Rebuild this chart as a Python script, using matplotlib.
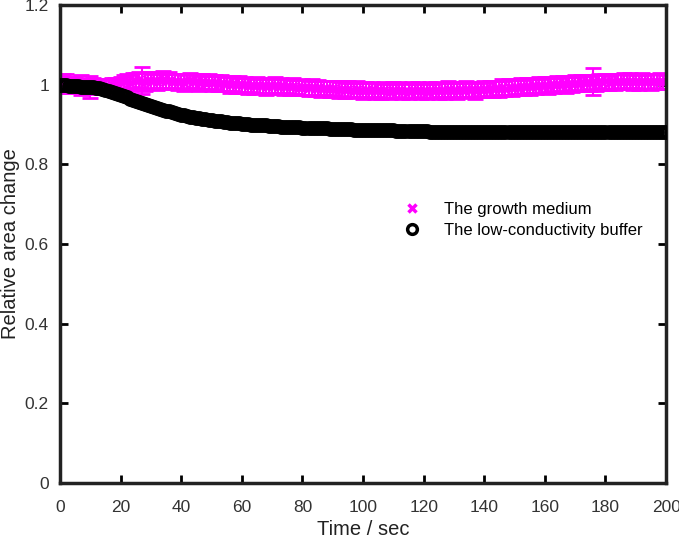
import numpy as np
import matplotlib
matplotlib.use('Agg')
import matplotlib.pyplot as plt
from matplotlib.lines import Line2D

plt.rcParams['font.family'] = ['Liberation Sans', 'DejaVu Sans']

# time axis, 1 s sampling
time = list(range(0, 201))

# relative area, growth medium (magenta x)
growth = [
    1.000, 1.006, 1.003, 0.998, 1.004, 1.001, 0.997, 0.999, 0.996, 0.998,
    0.995, 0.997, 0.994, 0.996, 0.998, 0.995, 0.997, 0.999, 1.001, 0.998,
    1.003, 1.006, 1.009, 1.004, 1.011, 1.008, 1.013, 1.010, 1.007, 1.012,
    1.009, 1.011, 1.006, 1.010, 1.013, 1.008, 1.011, 1.007, 1.010, 1.006,
    1.009, 1.005, 1.008, 1.011, 1.006, 1.009, 1.004, 1.008, 1.005, 1.007,
    1.003, 1.006, 1.002, 1.005, 1.001, 1.004, 1.000, 1.003, 0.999, 1.002,
    0.998, 1.001, 0.997, 1.000, 0.996, 1.000, 0.997, 0.999, 0.995, 0.998,
    0.996, 0.999, 0.995, 0.998, 0.994, 0.997, 0.993, 0.996, 0.994, 0.992,
    0.995, 0.993, 0.991, 0.994, 0.990, 0.993, 0.989, 0.992, 0.990, 0.988,
    0.991, 0.989, 0.987, 0.990, 0.986, 0.989, 0.987, 0.985, 0.988, 0.986,
    0.984, 0.987, 0.985, 0.988, 0.984, 0.986, 0.983, 0.987, 0.985, 0.982,
    0.986, 0.984, 0.987, 0.983, 0.985, 0.982, 0.986, 0.984, 0.987, 0.983,
    0.985, 0.982, 0.986, 0.984, 0.987, 0.983, 0.986, 0.984, 0.988, 0.985,
    0.987, 0.984, 0.988, 0.985, 0.989, 0.986, 0.988, 0.985, 0.989, 0.987,
    0.990, 0.987, 0.991, 0.988, 0.992, 0.989, 0.993, 0.990, 0.994, 0.991,
    0.995, 0.992, 0.996, 0.993, 0.997, 0.994, 0.998, 0.995, 0.999, 0.996,
    1.000, 0.997, 1.001, 0.998, 1.002, 0.999, 1.003, 1.000, 1.004, 1.001,
    1.005, 1.002, 1.006, 1.003, 1.007, 1.004, 1.008, 1.005, 1.009, 1.006,
    1.008, 1.005, 1.009, 1.006, 1.010, 1.007, 1.009, 1.006, 1.010, 1.007,
    1.009, 1.006, 1.010, 1.007, 1.009, 1.006, 1.010, 1.007, 1.009, 1.006,
    1.008,
]

# error bars for the growth medium
growth_err = [
    0.022, 0.020, 0.024, 0.018, 0.016, 0.019, 0.017, 0.026, 0.018, 0.016,
    0.028, 0.019, 0.017, 0.015, 0.016, 0.018, 0.015, 0.017, 0.016, 0.015,
    0.017, 0.019, 0.018, 0.020, 0.019, 0.021, 0.020, 0.034, 0.022, 0.020,
    0.019, 0.021, 0.020, 0.019, 0.021, 0.018, 0.020, 0.019, 0.018, 0.020,
    0.019, 0.020, 0.018, 0.019, 0.020, 0.018, 0.019, 0.020, 0.018, 0.019,
    0.020, 0.018, 0.019, 0.020, 0.018, 0.019, 0.020, 0.018, 0.019, 0.020,
    0.018, 0.019, 0.020, 0.018, 0.019, 0.020, 0.018, 0.019, 0.020, 0.018,
    0.019, 0.020, 0.018, 0.019, 0.020, 0.018, 0.019, 0.020, 0.018, 0.019,
    0.020, 0.018, 0.019, 0.020, 0.018, 0.019, 0.020, 0.018, 0.019, 0.020,
    0.018, 0.019, 0.020, 0.018, 0.019, 0.020, 0.018, 0.019, 0.020, 0.018,
    0.019, 0.020, 0.018, 0.019, 0.020, 0.018, 0.019, 0.020, 0.018, 0.019,
    0.020, 0.018, 0.019, 0.020, 0.018, 0.019, 0.020, 0.018, 0.019, 0.020,
    0.018, 0.019, 0.020, 0.018, 0.019, 0.020, 0.018, 0.019, 0.020, 0.018,
    0.019, 0.020, 0.018, 0.019, 0.020, 0.018, 0.019, 0.020, 0.018, 0.019,
    0.020, 0.018, 0.019, 0.020, 0.018, 0.019, 0.020, 0.018, 0.019, 0.020,
    0.018, 0.019, 0.020, 0.018, 0.019, 0.020, 0.018, 0.019, 0.020, 0.018,
    0.019, 0.020, 0.018, 0.019, 0.020, 0.018, 0.019, 0.020, 0.018, 0.019,
    0.020, 0.018, 0.019, 0.020, 0.018, 0.019, 0.033, 0.020, 0.018, 0.019,
    0.020, 0.018, 0.019, 0.020, 0.018, 0.019, 0.020, 0.018, 0.019, 0.020,
    0.018, 0.019, 0.020, 0.018, 0.019, 0.020, 0.018, 0.019, 0.020, 0.018,
    0.019,
]

# relative area, low-conductivity buffer (black o)
buffer = [
    1.000, 0.999, 0.998, 0.997, 0.997, 0.996, 0.996, 0.995, 0.995, 0.994,
    0.994, 0.993, 0.992, 0.991, 0.989, 0.987, 0.985, 0.982, 0.979, 0.977,
    0.974, 0.971, 0.968, 0.965, 0.962, 0.959, 0.957, 0.954, 0.951, 0.949,
    0.946, 0.944, 0.941, 0.939, 0.937, 0.935, 0.933, 0.931, 0.929, 0.927,
    0.925, 0.923, 0.922, 0.920, 0.918, 0.917, 0.916, 0.914, 0.913, 0.912,
    0.911, 0.910, 0.909, 0.908, 0.907, 0.906, 0.905, 0.905, 0.904, 0.903,
    0.902, 0.902, 0.901, 0.900, 0.900, 0.899, 0.899, 0.898, 0.898, 0.897,
    0.897, 0.896, 0.896, 0.895, 0.895, 0.894, 0.894, 0.894, 0.893, 0.893,
    0.892, 0.892, 0.892, 0.891, 0.891, 0.891, 0.890, 0.890, 0.890, 0.889,
    0.889, 0.889, 0.889, 0.888, 0.888, 0.888, 0.888, 0.887, 0.887, 0.887,
    0.887, 0.886, 0.886, 0.886, 0.886, 0.886, 0.885, 0.885, 0.885, 0.885,
    0.885, 0.884, 0.884, 0.884, 0.884, 0.884, 0.883, 0.883, 0.883, 0.883,
    0.883, 0.883, 0.882, 0.882, 0.882, 0.882, 0.882, 0.882, 0.882, 0.881,
    0.881, 0.881, 0.881, 0.881, 0.881, 0.881, 0.881, 0.881, 0.881, 0.880,
    0.881, 0.880, 0.881, 0.880, 0.880, 0.881, 0.880, 0.880, 0.880, 0.881,
    0.880, 0.880, 0.880, 0.881, 0.880, 0.880, 0.880, 0.880, 0.881, 0.880,
    0.880, 0.880, 0.881, 0.880, 0.880, 0.880, 0.880, 0.881, 0.880, 0.880,
    0.880, 0.881, 0.880, 0.880, 0.880, 0.880, 0.881, 0.880, 0.880, 0.880,
    0.881, 0.880, 0.880, 0.880, 0.881, 0.880, 0.880, 0.880, 0.880, 0.881,
    0.880, 0.880, 0.881, 0.880, 0.880, 0.880, 0.881, 0.880, 0.880, 0.881,
    0.881,
]

xticks = [0, 20, 40, 60, 80, 100, 120, 140, 160, 180, 200]
yticks = [0, 0.2, 0.4, 0.6, 0.8, 1.0, 1.2]
ytick_labels = ['0', '0.2', '0.4', '0.6', '0.8', '1', '1.2']

fig = plt.figure(figsize=(6.79, 5.39), dpi=100)
ax = fig.add_axes([0.0884, 0.1039, 0.8926, 0.8868])

ax.errorbar(time, growth, yerr=growth_err, fmt='x', color='#ff00ff',
            ms=6, mew=2, elinewidth=1.5, capsize=6, capthick=1.5, zorder=2)
ax.plot(time, buffer, 'o', mfc='none', mec='black', ms=8.5, mew=2.2,
        zorder=3)

ax.set_xlim(0, 200)
ax.set_ylim(0, 1.2)
ax.set_xticks(xticks)
ax.set_yticks(yticks)
ax.set_yticklabels(ytick_labels)
ax.tick_params(direction='in', length=6, width=2, top=True, right=True,
               labelsize=12.5, labelcolor='#333333')
ax.tick_params(axis='y', pad=8)
ax.tick_params(axis='x', pad=12)
for s in ax.spines.values():
    s.set_linewidth(2.5)
    s.set_color('#222222')

ax.set_xlabel('Time / sec', fontsize=14.5, color='#222222', labelpad=4)
ax.set_ylabel('Relative area change', fontsize=14.5, color='#222222')
ax.yaxis.set_label_coords(-0.066, 0.5)

# legend: markers only, no frame
h_grow = Line2D([], [], ls='none', marker='x', color='#ff00ff', ms=6, mew=2.5)
h_buf = Line2D([], [], ls='none', marker='o', mfc='none', mec='black',
               ms=7, mew=2.5)
ax.legend([h_grow, h_buf], ['The growth medium', 'The low-conductivity buffer'],
          loc='upper left', bbox_to_anchor=(0.54, 0.62),
          frameon=False, handlelength=1.2, handletextpad=1.3,
          labelspacing=0.4, fontsize=12)

plt.savefig('out.png', dpi=100)
